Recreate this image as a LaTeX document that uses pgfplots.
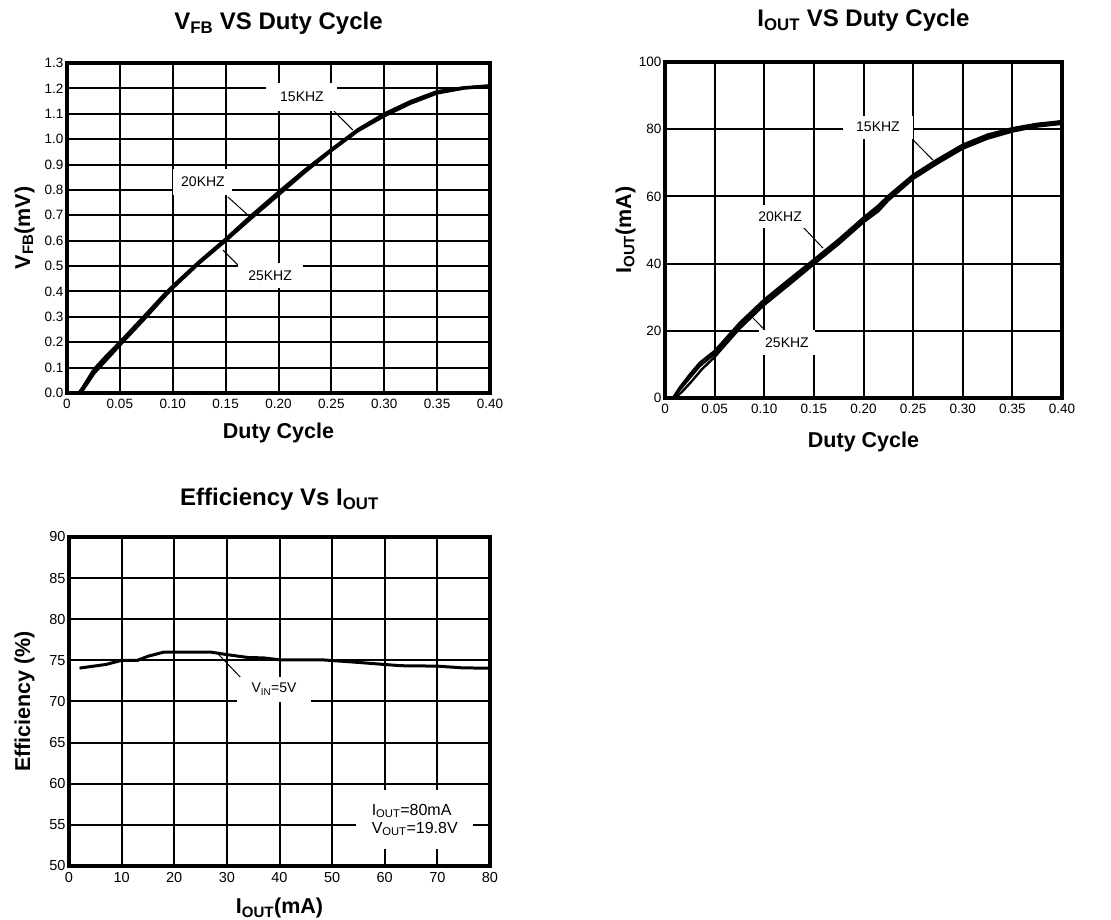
\documentclass[border=0pt]{standalone}
\usepackage{fontspec}
\setmainfont{Liberation Sans}
\usepackage{pgfplots}
\pgfplotsset{compat=1.18}

\pgfplotsset{
  chartstyle/.style={
    scale only axis,
    axis line style={line width=3.2pt},
    grid=major,
    grid style={line width=2pt, black},
    major tick length=0pt,
    tick style={draw=none},
    tick label style={font=\fontsize{13.5}{16}\selectfont},
    xticklabel style={yshift=-3pt},
    label style={font=\fontsize{21.5}{25}\selectfont\bfseries},
    title style={font=\fontsize{24}{28}\selectfont\bfseries},
  },
  curve/.style={black, line width=2.4pt, line join=round, no marks},
}
\tikzset{lab/.style={fill=white, inner sep=0pt, font=\fontsize{14}{16}\selectfont}}

\begin{document}
\begin{tikzpicture}
\path[use as bounding box] (0pt,0pt) rectangle (1111pt,920pt);

% ---------- Plot 1 ----------
\begin{axis}[chartstyle,
  at={(67pt,527pt)}, anchor=south west,
  width=423pt, height=330pt,
  xmin=0, xmax=0.40, ymin=0, ymax=1.3,
  xtick={0,0.05,0.10,0.15,0.20,0.25,0.30,0.35,0.40},
  xticklabels={0,0.05,0.10,0.15,0.20,0.25,0.30,0.35,0.40},
  ytick={0,0.1,0.2,0.3,0.4,0.5,0.6,0.7,0.8,0.9,1.0,1.1,1.2,1.3},
  yticklabels={0.0,0.1,0.2,0.3,0.4,0.5,0.6,0.7,0.8,0.9,1.0,1.1,1.2,1.3},
  title={V\textsubscript{FB} VS Duty Cycle},
  title style={at={([yshift=27pt]axis description cs:0.5,1)}, anchor=base},
  xlabel={Duty Cycle},
  xlabel style={at={([yshift=-46pt]axis description cs:0.5,0)}, anchor=base},
  ylabel={V\textsubscript{FB}(mV)},
  ylabel style={at={([xshift=-37pt]axis description cs:0,0.5)}, anchor=base},
]
\addplot[curve] coordinates {(0.011,0.0)(0.015,0.024)(0.025,0.092)(0.035,0.138)(0.05,0.202)(0.075,0.313)(0.09,0.381)(0.10,0.423)(0.125,0.519)(0.15,0.608)(0.175,0.703)(0.20,0.793)(0.225,0.88)(0.25,0.961)(0.275,1.039)(0.30,1.101)(0.325,1.15)(0.35,1.189)(0.375,1.204)(0.40,1.212)};
\addplot[curve] coordinates {(0.011,0)(0.015,0.02)(0.025,0.085)(0.035,0.13)(0.05,0.195)(0.075,0.305)(0.09,0.375)(0.10,0.418)(0.125,0.515)(0.15,0.603)(0.175,0.697)(0.20,0.787)(0.225,0.875)(0.25,0.958)(0.275,1.035)(0.30,1.096)(0.325,1.145)(0.35,1.185)(0.375,1.202)(0.40,1.21)};
\addplot[curve] coordinates {(0.012,0.0)(0.016,0.016)(0.026,0.078)(0.036,0.123)(0.05,0.187)(0.075,0.298)(0.09,0.368)(0.10,0.412)(0.125,0.51)(0.15,0.598)(0.175,0.69)(0.20,0.779)(0.225,0.869)(0.25,0.953)(0.275,1.031)(0.30,1.09)(0.325,1.14)(0.35,1.18)(0.375,1.199)(0.40,1.208)};
\draw[line width=1pt] (axis cs:0.2496,1.1227) -- (axis cs:0.2704,1.036);
\draw[line width=1pt] (axis cs:0.1522,0.772) -- (axis cs:0.1721,0.697);
\draw[line width=1pt] (axis cs:0.1617,0.504) -- (axis cs:0.1475,0.563);
\node[lab, minimum width=71pt, minimum height=28pt] at (axis cs:0.2222,1.166) {15KHZ};
\node[lab, minimum width=59pt, minimum height=26pt] at (axis cs:0.1286,0.831) {20KHZ};
\node[lab, minimum width=65pt, minimum height=25pt] at (axis cs:0.192,0.461) {25KHZ};
\end{axis}

% ---------- Plot 2 ----------
\begin{axis}[chartstyle,
  at={(665pt,522pt)}, anchor=south west,
  width=397pt, height=336pt,
  xmin=0, xmax=0.40, ymin=0, ymax=100,
  xtick={0,0.05,0.10,0.15,0.20,0.25,0.30,0.35,0.40},
  xticklabels={0,0.05,0.10,0.15,0.20,0.25,0.30,0.35,0.40},
  ytick={0,20,40,60,80,100},
  yticklabels={0,20,40,60,80,100},
  title={I\textsubscript{OUT} VS Duty Cycle},
  title style={at={([yshift=29pt]axis description cs:0.5,1)}, anchor=base},
  xlabel={Duty Cycle},
  xlabel style={at={([yshift=-50pt]axis description cs:0.5,0)}, anchor=base},
  ylabel={I\textsubscript{OUT}(mA)},
  ylabel style={at={([xshift=-34pt]axis description cs:0,0.5)}, anchor=base},
]
\addplot[curve] coordinates {(0.008,0)(0.015,3.2)(0.025,7)(0.035,10.5)(0.05,14)(0.075,22.3)(0.10,29.3)(0.125,35.3)(0.15,41.2)(0.175,47.2)(0.20,53.7)(0.215,57.3)(0.225,60.2)(0.25,66.4)(0.275,71.1)(0.30,75.4)(0.325,78.4)(0.35,80.3)(0.375,81.6)(0.40,82.4)};
\addplot[curve] coordinates {(0.008,0)(0.015,2.5)(0.025,6)(0.035,9.5)(0.05,13.2)(0.075,21.5)(0.10,28.5)(0.125,34.5)(0.15,40.5)(0.175,46.5)(0.20,53)(0.215,56.5)(0.225,59.5)(0.25,65.8)(0.275,70.5)(0.30,74.8)(0.325,77.8)(0.35,79.8)(0.375,81.2)(0.40,82)};
\addplot[curve] coordinates {(0.010,0)(0.017,1.8)(0.027,5)(0.037,8.5)(0.05,12.2)(0.075,20.6)(0.10,27.7)(0.125,33.7)(0.15,39.8)(0.175,45.8)(0.20,52.3)(0.215,55.6)(0.225,58.8)(0.25,65.2)(0.275,69.9)(0.30,74.2)(0.325,77.2)(0.35,79.3)(0.375,80.8)(0.40,81.6)};
\draw[line width=1pt] (axis cs:0.2499,76.8) -- (axis cs:0.2700,70.8);
\draw[line width=1pt] (axis cs:0.139,50.9) -- (axis cs:0.1592,44.6);
\draw[line width=1pt] (axis cs:0.1038,19.3) -- (axis cs:0.0887,23.8);
\node[lab, minimum width=70pt, minimum height=23pt] at (axis cs:0.2146,80.65) {15KHZ};
\node[lab, minimum width=50pt, minimum height=23pt] at (axis cs:0.1159,53.9) {20KHZ};
\node[lab, minimum width=56pt, minimum height=25pt] at (axis cs:0.1229,16.4) {25KHZ};
\end{axis}

% ---------- Plot 3 ----------
\begin{axis}[chartstyle,
  at={(69pt,54pt)}, anchor=south west,
  width=421pt, height=329pt,
  xmin=0, xmax=80, ymin=50, ymax=90,
  tick label style={font=\fontsize{14.5}{16}\selectfont},
  xtick={0,10,20,30,40,50,60,70,80},
  xticklabels={0,10,20,30,40,50,60,70,80},
  ytick={50,55,60,65,70,75,80,85,90},
  yticklabels={50,55,60,65,70,75,80,85,90},
  title={Efficiency Vs I\textsubscript{OUT}},
  title style={at={([yshift=25pt]axis description cs:0.5,1)}, anchor=base},
  xlabel={I\textsubscript{OUT}(mA)},
  xlabel style={at={([yshift=-48pt]axis description cs:0.5,0)}, anchor=base},
  ylabel={Efficiency (\%)},
  ylabel style={at={([xshift=-39pt]axis description cs:0,0.5)}, anchor=base},
]
\addplot[curve, line width=3pt] coordinates {(2,74.06)(7,74.5)(10,75.0)(13,75.0)(15,75.5)(18,76.0)(22,76.0)(27,76.0)(30,75.7)(34,75.35)(37,75.3)(40,75.07)(48,75.07)(55,74.75)(63,74.35)(70,74.3)(75,74.08)(80,74.06)};
\draw[line width=1pt] (axis cs:32.7,72.86) -- (axis cs:28.3,75.8);
\node[lab, minimum width=74pt, minimum height=25pt] at (axis cs:38.95,71.5) {V\textsubscript{IN}=5V};
\node[lab, minimum width=117pt, minimum height=59pt, align=left, font=\fontsize{16}{18}\selectfont] at (axis cs:65.7,55.6) {I\textsubscript{OUT}=80mA\\V\textsubscript{OUT}=19.8V};
\end{axis}
\end{tikzpicture}
\end{document}
